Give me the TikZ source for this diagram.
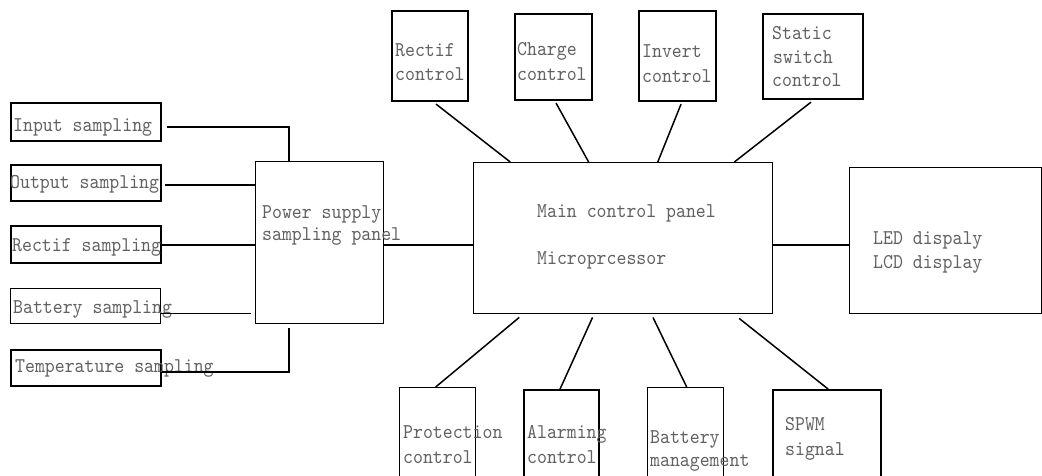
\documentclass[tikz,border=0pt]{standalone}
\usepackage{fontspec}
\newfontfamily\simfont[Extension=.otf, FakeStretch=0.9]{lmmono10-regular}
\usetikzlibrary{calc}
\begin{document}
\begin{tikzpicture}[x=1pt,y=-1pt,
  box/.style={draw=black, line width=2.1pt, inner sep=0pt, anchor=north west},
  thinbox/.style={box, line width=1.4pt},
  txt/.style={anchor=base west, inner sep=0pt, font=\simfont\fontsize{21}{24}\selectfont, text=black!62},
  wire/.style={line width=2pt},
  thinwire/.style={line width=1.1pt},
  diag/.style={line width=1.5pt}]
\useasboundingbox (0,0) rectangle (1042,475);
\clip (0,0) rectangle (1042,475);
% left sampling boxes
\node[box, minimum width=150pt, minimum height=38pt] (in) at (10,102) {};
\node[box, minimum width=150pt, minimum height=36pt] (out) at (10,164) {};
\node[box, minimum width=150pt, minimum height=37pt] (rs) at (10,225) {};
\node[thinbox, minimum width=150pt, minimum height=35pt] (bs) at (10,288) {};
\node[box, minimum width=150pt, minimum height=36pt] (ts) at (10,349) {};
% panels
\node[thinbox, minimum width=128pt, minimum height=162pt] (ps) at (255,161) {};
\node[thinbox, minimum width=299pt, minimum height=151pt] (main) at (473,162) {};
\node[thinbox, minimum width=192pt, minimum height=146pt] (led) at (849,167) {};
% top boxes
\node[box, minimum width=76pt, minimum height=90pt] (rc) at (391,10) {};
\node[box, minimum width=77pt, minimum height=86pt] (cc) at (514,13) {};
\node[box, minimum width=77pt, minimum height=90pt] (ic) at (638,10) {};
\node[box, minimum width=100pt, minimum height=85pt] (sc) at (762,13) {};
% bottom boxes
\node[thinbox, minimum width=76pt, minimum height=100pt] (pc) at (399,387) {};
\node[box, minimum width=75pt, minimum height=100pt] (ac) at (523,389) {};
\node[thinbox, minimum width=76pt, minimum height=100pt] (bm) at (647,387) {};
\node[box, minimum width=108pt, minimum height=100pt] (sp) at (772,389) {};
% texts
\node[txt] (tin) at (13,131) {Input sampling};
\node[txt] (tout) at (10,188) {Output sampling};
\node[txt] (trs) at (12,251) {Rectif sampling};
\node[txt] (tbs) at (13,313) {Battery sampling};
\node[txt] (tts) at (15,372) {Temperature sampling};
\node[txt] (tps1) at (262,218) {Power supply};
\node[txt] (tps2) at (262,240) {sampling panel};
\node[txt] (tm1) at (537,217) {Main control panel};
\node[txt] (tm2) at (537,264) {Microprcessor};
\node[txt] (tl1) at (873,244) {LED dispaly};
\node[txt] (tl2) at (873,268) {LCD display};
\node[txt] (trc1) at (395,56) {Rectif};
\node[txt] (trc2) at (395,80) {control};
\node[txt] (tcc1) at (517,55) {Charge};
\node[txt] (tcc2) at (517,80) {control};
\node[txt] (tic1) at (642,57) {Invert};
\node[txt] (tic2) at (642,82) {control};
\node[txt] (tsc1) at (772,39) {Static};
\node[txt] (tsc2) at (773,63) {switch};
\node[txt] (tsc3) at (772,86) {control};
\node[txt] (tpc1) at (403,438) {Protection};
\node[txt] (tpc2) at (403,463) {control};
\node[txt] (tac1) at (527,438) {Alarming};
\node[txt] (tac2) at (527,463) {control};
\node[txt] (tbm1) at (650,443) {Battery};
\node[txt] (tbm2) at (650,466) {management};
\node[txt] (tsp1) at (785,430) {SPWM};
\node[txt] (tsp2) at (785,455) {signal};
% left connectors
\draw[wire] (in.east) ++(5,5) coordinate (i1) -| ($(ps.north west)+(34,0)$);
\draw[wire] (out.east) ++(3,2) coordinate (o1) -- (o1 -| ps.west);
\draw[wire] (rs.east) ++(0,0.5) coordinate (r1) -- (r1 -| ps.west);
\draw[thinwire] (bs.east) ++(0,7.5) coordinate (b1) -- ($(b1 -| ps.west)+(-4,0)$);
\draw[wire] (ts.east) ++(0,4) coordinate (t1) -| ($(ps.south west)+(34,4)$);
\draw[wire] (ps.east) ++(0,2) coordinate (p1) -- (p1 -| main.west);
\draw[wire] (main.east) ++(0,6.5) coordinate (m1) -- (m1 -| led.west);
% top diagonals
\draw[diag] ($(rc.south)+(6,2)$) -- ($(main.north west)!0.124!(main.north east)$);
\draw[diag] ($(cc.south)+(2.5,2)$) -- ($(main.north west)!0.385!(main.north east)$);
\draw[diag] ($(ic.south)+(3.5,2)$) -- ($(main.north west)!0.615!(main.north east)$);
\draw[diag] ($(sc.south)+(-2,2)$) -- ($(main.north west)!0.87!(main.north east)$);
% bottom diagonals
\draw[diag] ($(main.south west)!0.154!(main.south east)+(0,3)$) -- ($(pc.north)+(-2,0)$);
\draw[diag] ($(main.south west)!0.398!(main.south east)+(0,3)$) -- ($(ac.north)+(-1.5,0)$);
\draw[diag] ($(main.south west)!0.599!(main.south east)+(0,3)$) -- ($(bm.north)+(1,0)$);
\draw[diag] ($(main.south west)!0.886!(main.south east)+(0,4)$) -- ($(sp.north)+(1,0)$);
\end{tikzpicture}
\end{document}
